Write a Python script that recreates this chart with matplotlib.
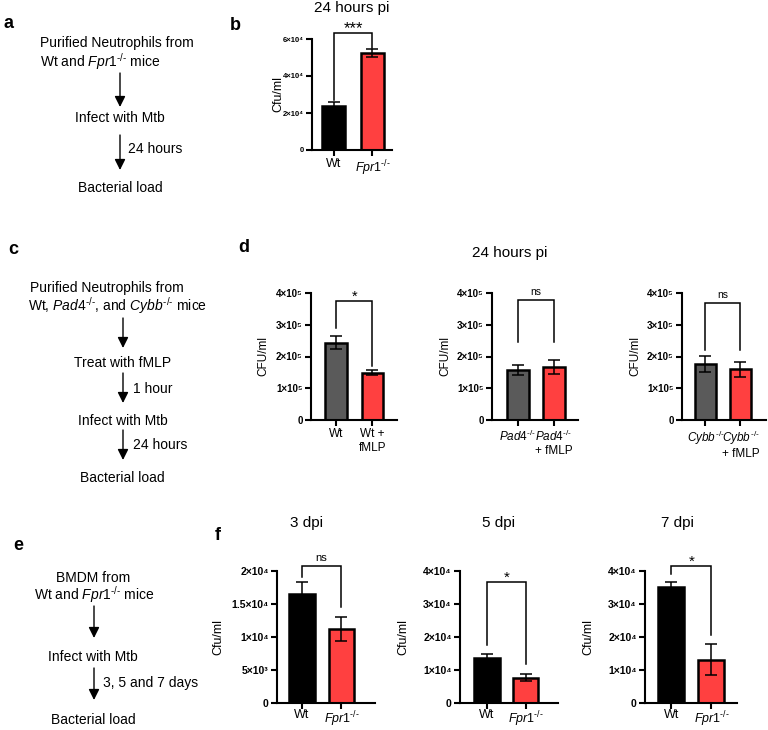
import numpy as np
import matplotlib
matplotlib.use('Agg')
import matplotlib.pyplot as plt

plt.rcParams['font.family'] = ['Liberation Sans', 'DejaVu Sans']
plt.rcParams['mathtext.fontset'] = 'custom'
plt.rcParams['mathtext.rm'] = 'Liberation Sans'
plt.rcParams['mathtext.it'] = 'Liberation Sans:italic'
plt.rcParams['mathtext.bf'] = 'Liberation Sans:bold'

KO = r'^{\mathit{\text{-/-}}}'
FPR1 = r'$\mathit{Fpr1}' + KO + '$'
PAD4 = r'$\mathit{Pad4}' + KO + '$'
CYBB = r'$\mathit{Cybb}' + KO + '$'

RED = '#ff4040'
GREY = '#5a5a5a'

# b: neutrophils, 24 hours pi
b_labels = ['Wt', FPR1]
b_cfu = [23800, 52300]
b_sem = [2200, 2100]
b_yticks = [0, 20000, 40000, 60000]
b_yticklabels = ['0', '2×10⁴', '4×10⁴', '6×10⁴']
b_sig = '***'
b_bracket = [63200, 27000, 55100]   # top, left leg end, right leg end

# d: neutrophils +/- fMLP, 24 hours pi
d_yticks = [0, 100000, 200000, 300000, 400000]
d_yticklabels = ['0', '1×10⁵', '2×10⁵', '3×10⁵', '4×10⁵']
d1_labels = ['Wt', 'Wt +\nfMLP']
d1_cfu = [243000, 149000]
d1_sem = [20000, 8000]
d1_sig = '*'
d1_bracket = [375000, 290000, 170000]
d2_labels = [PAD4, PAD4 + '\n+ fMLP']
d2_cfu = [158000, 168000]
d2_sem = [16000, 22000]
d2_sig = 'ns'
d2_bracket = [378000, 247000, 247000]
d3_labels = [CYBB, CYBB + '\n+ fMLP']
d3_cfu = [176000, 160000]
d3_sem = [25000, 23000]
d3_sig = 'ns'
d3_bracket = [368000, 220000, 220000]

# f: BMDM, 3 / 5 / 7 dpi
f_labels = ['Wt', FPR1]
f1_cfu = [16560, 11170]
f1_sem = [1800, 1800]
f1_yticks = [0, 5000, 10000, 15000, 20000]
f1_yticklabels = ['0', '5×10³', '1×10⁴', '1.5×10⁴', '2×10⁴']
f1_sig = 'ns'
f1_bracket = [20750, 19100, 14500]
f_yticks = [0, 10000, 20000, 30000, 40000]
f_yticklabels = ['0', '1×10⁴', '2×10⁴', '3×10⁴', '4×10⁴']
f2_cfu = [13730, 7700]
f2_sem = [1200, 1000]
f2_sig = '*'
f2_bracket = [36700, 17500, 11900]
f3_cfu = [35150, 13100]
f3_sem = [1500, 4700]
f3_sig = '*'
f3_bracket = [41400, 39200, 20500]

W, H = 768, 730
fig = plt.figure(figsize=(W / 100, H / 100), dpi=100)


def px_rect(l, t, r, b):
    return [l / W, 1 - b / H, (r - l) / W, (b - t) / H]


ov = fig.add_axes([0, 0, 1, 1])
ov.set_xlim(0, W)
ov.set_ylim(H, 0)
ov.axis('off')


def txt(x, y, s, ha='center', fs=10, **kw):
    ov.text(x, y, s, ha=ha, va='center', fontsize=fs, **kw)


def arrow(x, y0, y1):
    ov.annotate('', xy=(x, y1), xytext=(x, y0),
                arrowprops=dict(arrowstyle='-|>', color='black', lw=1.0,
                                mutation_scale=16, shrinkA=0, shrinkB=0))


def bar_panel(rect, xlim, ytop, yticks, yticklabels, labels, cfu, sem, colors,
              width, ylabel, ylab_x, sig, bracket, tick_fs, lab_fs, pad=2,
              star_fs=None):
    ax = fig.add_axes(px_rect(*rect))
    x = np.arange(len(cfu))
    ax.bar(x, cfu, width=width, color=colors, edgecolor='black',
           linewidth=1.8, zorder=2)
    ax.errorbar(x, cfu, yerr=sem, fmt='none', ecolor='black', elinewidth=1.1,
                capsize=4.5, capthick=1.1, zorder=3)
    ax.set_xlim(*xlim)
    ax.set_ylim(0, ytop)
    ax.set_yticks(yticks)
    ax.set_yticklabels(yticklabels, fontsize=tick_fs, fontweight='bold')
    ax.set_xticks(x)
    ax.set_xticklabels(labels, fontsize=lab_fs)
    for s in ['top', 'right']:
        ax.spines[s].set_visible(False)
    for s in ['left', 'bottom']:
        ax.spines[s].set_linewidth(1.5)
    ax.tick_params(length=4, width=1.5, pad=2)
    ax.tick_params(axis='x', pad=pad)
    ax.set_ylabel(ylabel, fontsize=lab_fs, va='center')
    ax.yaxis.set_label_coords(ylab_x, 0.5)
    top, left_end, right_end = bracket
    ax.plot([0, 0, 1, 1], [left_end, top, top, right_end], color='black',
            lw=1.1, clip_on=False, solid_joinstyle='miter')
    if '*' in sig:
        off, fs = 3, (star_fs or lab_fs + 2)
    else:
        off, fs = 6, lab_fs - 1
    ax.annotate(sig, xy=(0.5, top), xytext=(0, off), textcoords='offset points',
                ha='center', va='center', fontsize=fs, annotation_clip=False)
    return ax


# panel labels
for lab, x, y in [('a', 8, 23), ('b', 235, 25), ('c', 13, 249),
                  ('d', 244, 247), ('e', 18, 545), ('f', 218, 535)]:
    txt(x, y, lab, fs=13, fontweight='bold')

# a: workflow
txt(40, 43, 'Purified Neutrophils from', ha='left')
txt(40, 62, 'Wt and ' + FPR1 + ' mice', ha='left')
arrow(120, 73, 107)
txt(120, 118, 'Infect with Mtb')
arrow(120, 135, 170)
txt(128, 149, '24 hours', ha='left')
txt(120, 188, 'Bacterial load')

# c: workflow
txt(30, 288, 'Purified Neutrophils from', ha='left')
txt(28, 306, 'Wt, ' + PAD4 + ', and ' + CYBB + ' mice', ha='left')
arrow(123, 318, 348)
txt(123, 363, 'Treat with fMLP')
arrow(123, 373, 403)
txt(133, 389, '1 hour', ha='left')
txt(123, 421, 'Infect with Mtb')
arrow(123, 430, 460)
txt(133, 445, '24 hours', ha='left')
txt(122, 478, 'Bacterial load')

# e: workflow
txt(93, 578, 'BMDM from')
txt(94, 595, 'Wt and ' + FPR1 + ' mice')
arrow(94, 606, 638)
txt(93, 657, 'Infect with Mtb')
arrow(94, 668, 700)
txt(103, 683, '3, 5 and 7 days', ha='left')
txt(93, 720, 'Bacterial load')

# b
bar_panel((312, 39, 392, 150), (-0.57, 1.51), 60000, b_yticks, b_yticklabels,
          b_labels, b_cfu, b_sem, ['black', RED], 0.6, 'Cfu/ml', -0.42,
          b_sig, b_bracket, 5.5, 9, star_fs=12)
txt(352, 8, '24 hours pi', fs=11)

# d
txt(510, 253, '24 hours pi', fs=11)
bar_panel((311, 293, 397, 420), (-0.68, 1.67), 400000, d_yticks, d_yticklabels,
          d1_labels, d1_cfu, d1_sem, [GREY, RED], 0.6, 'CFU/ml', -0.55,
          d1_sig, d1_bracket, 7, 8.5)
bar_panel((492, 293, 578, 420), (-0.72, 1.67), 400000, d_yticks, d_yticklabels,
          d2_labels, d2_cfu, d2_sem, [GREY, RED], 0.6, 'CFU/ml', -0.54,
          d2_sig, d2_bracket, 7, 8.5)
bar_panel((682, 293, 766, 420), (-0.67, 1.73), 400000, d_yticks, d_yticklabels,
          d3_labels, d3_cfu, d3_sem, [GREY, RED], 0.6, 'CFU/ml', -0.55,
          d3_sig, d3_bracket, 7, 8.5)

# f
for x, t in [(306, '3 dpi'), (499, '5 dpi'), (677, '7 dpi')]:
    txt(x, 523, t, fs=11)
bar_panel((277, 571, 375, 703), (-0.63, 1.85), 20000, f1_yticks, f1_yticklabels,
          f_labels, f1_cfu, f1_sem, ['black', RED], 0.65, 'Cfu/ml', -0.60,
          f1_sig, f1_bracket, 7.5, 9, pad=0.5)
bar_panel((460, 571, 558, 703), (-0.70, 1.84), 40000, f_yticks, f_yticklabels,
          f_labels, f2_cfu, f2_sem, ['black', RED], 0.65, 'Cfu/ml', -0.58,
          f2_sig, f2_bracket, 7.5, 9, pad=0.5)
bar_panel((645, 571, 737, 703), (-0.66, 1.64), 40000, f_yticks, f_yticklabels,
          f_labels, f3_cfu, f3_sem, ['black', RED], 0.65, 'Cfu/ml', -0.62,
          f3_sig, f3_bracket, 7.5, 9, pad=0.5)

fig.savefig('out.png', dpi=100)
